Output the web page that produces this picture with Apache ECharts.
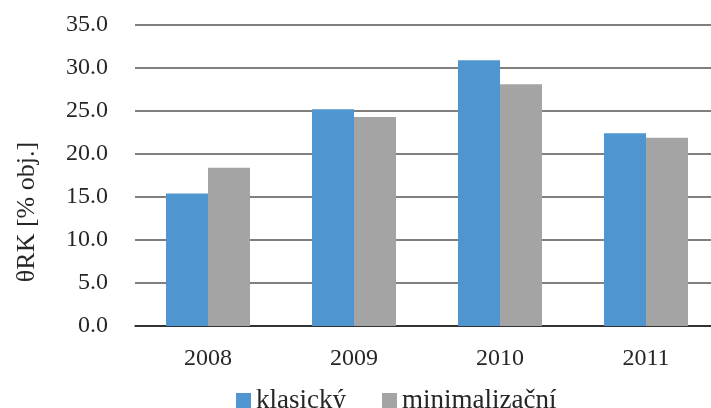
<!DOCTYPE html>
<html>
<head>
<meta charset="utf-8">
<script src="https://cdn.jsdelivr.net/npm/echarts@6/dist/echarts.min.js"></script>
<style>html,body{margin:0;padding:0;background:#fff;}#c{width:711px;height:408px;}</style>
</head>
<body>
<div id="c"></div>
<script>
const categories = ['2008', '2009', '2010', '2011'];
const klasicky = [15.4, 25.2, 30.9, 22.4];
const minimalizacni = [18.4, 24.3, 28.1, 21.9];
const seriesNames = ['klasický', 'minimalizační'];
const yAxisName = 'θRK [% obj.]';

const serif = "'Liberation Serif', 'DejaVu Serif', serif";
const chart = echarts.init(document.getElementById('c'));
chart.setOption({
  animation: false,
  backgroundColor: '#ffffff',
  grid: { left: 135, width: 584, top: 25, height: 301, containLabel: false, outerBoundsMode: 'none' },
  legend: {
    left: 231, top: 382,
    itemWidth: 15, itemHeight: 15, itemGap: 36,
    icon: 'rect',
    textStyle: { fontFamily: serif, fontSize: 27, color: '#262626' },
    data: seriesNames
  },
  xAxis: {
    type: 'category',
    data: categories,
    axisLine: { show: true, lineStyle: { color: '#1a1a1a', width: 1.5 } },
    axisTick: { show: false },
    axisLabel: { fontFamily: serif, fontSize: 24, color: '#262626', margin: 21 }
  },
  yAxis: {
    type: 'value',
    min: 0, max: 35, interval: 5,
    name: yAxisName,
    nameLocation: 'middle',
    nameGap: 95,
    nameRotate: 90,
    nameTextStyle: { fontFamily: serif, fontSize: 26, color: '#262626', padding: [0, 73, 0, 0] },
    axisLine: { show: false },
    axisTick: { show: false },
    axisLabel: { fontFamily: serif, fontSize: 24, color: '#262626', margin: 27, formatter: v => v.toFixed(1) },
    splitLine: { lineStyle: { color: '#555555', width: 1.5 } }
  },
  series: [
    { name: seriesNames[0], type: 'bar', data: klasicky, barWidth: 42, barGap: '0%', itemStyle: { color: '#4F95D0' } },
    { name: seriesNames[1], type: 'bar', data: minimalizacni, barWidth: 42, barGap: '0%', itemStyle: { color: '#A3A4A3' } }
  ]
});
</script>
</body>
</html>
